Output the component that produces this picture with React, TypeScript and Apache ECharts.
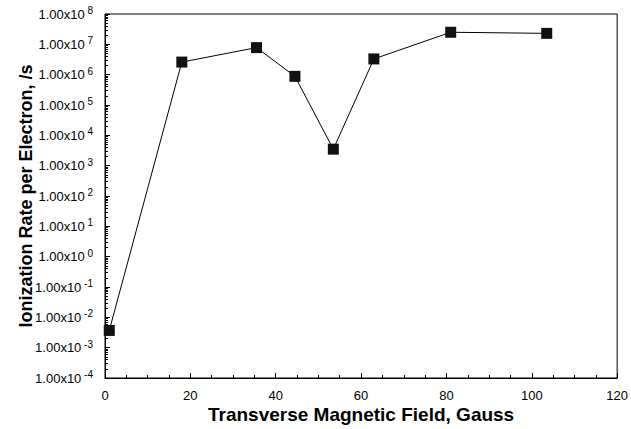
import React, { useEffect, useRef } from "react";
import * as echarts from "echarts";

const fieldGauss = [1, 18, 35.5, 44.5, 53.5, 63, 81, 103.5];
const ionRate = [3.7e-3, 2.6e6, 7.8e6, 8.8e5, 3.5e3, 3.3e6, 2.5e7, 2.3e7];
const xTitle = "Transverse Magnetic Field, Gauss";
const yTitle = "Ionization Rate per Electron, /s";

export default function App() {
  const ref = useRef<HTMLDivElement>(null);
  useEffect(() => {
    if (!ref.current) return;
    const chart = echarts.init(ref.current, undefined, { renderer: "svg" });
    const font = "'Liberation Sans', Arial, Helvetica, sans-serif";
    chart.setOption({
      animation: false,
      backgroundColor: "#fff",
      grid: {
        left: 105,
        top: 14,
        right: 9,
        bottom: 48,
        show: true,
        borderColor: "#000",
        borderWidth: 1,
      },
      xAxis: {
        type: "value",
        min: 0,
        max: 120,
        interval: 20,
        name: xTitle,
        nameLocation: "middle",
        nameGap: 27,
        nameMoveOverlap: false,
        nameTextStyle: { fontFamily: font, fontWeight: "bold", fontSize: 19, color: "#000" },
        axisLine: { lineStyle: { color: "#000", width: 1 } },
        axisTick: { inside: true, length: 5, lineStyle: { color: "#000" } },
        minorTick: { show: true, splitNumber: 4, length: 3, lineStyle: { color: "#000" } },
        splitLine: { show: false },
        axisLabel: { fontFamily: font, fontSize: 13, color: "#000", margin: 11 },
      },
      yAxis: {
        type: "log",
        logBase: 10,
        min: 1e-4,
        max: 1e8,
        interval: 1,
        name: yTitle,
        nameLocation: "middle",
        nameGap: 70,
        nameMoveOverlap: false,
        nameTextStyle: { fontFamily: font, fontWeight: "bold", fontSize: 18, color: "#000" },
        axisLine: { lineStyle: { color: "#000", width: 1 } },
        axisTick: { inside: true, length: 5, lineStyle: { color: "#000" } },
        minorTick: { show: true, splitNumber: 9, length: 3, lineStyle: { color: "#000" } },
        splitLine: { show: false },
        axisLabel: {
          fontFamily: font,
          color: "#000",
          margin: 12,
          formatter: (v: number) => {
            const e = Math.round(Math.log10(v));
            return `{b|1.00x10}{s| ${e}}`;
          },
          rich: {
            b: { fontFamily: font, fontSize: 13, color: "#000" },
            s: { fontFamily: font, fontSize: 10, color: "#000", padding: [0, 0, 7, 0] },
          },
        },
      },
      series: [
        {
          type: "line",
          data: fieldGauss.map((x, i) => [x, ionRate[i]]),
          symbol: "rect",
          symbolSize: 11,
          itemStyle: { color: "#111" },
          lineStyle: { color: "#000", width: 1 },
        },
      ],
    });
    return () => chart.dispose();
  }, []);
  return <div ref={ref} style={{ width: 631, height: 429, position: "absolute", left: 0, top: 0 }} />;
}
